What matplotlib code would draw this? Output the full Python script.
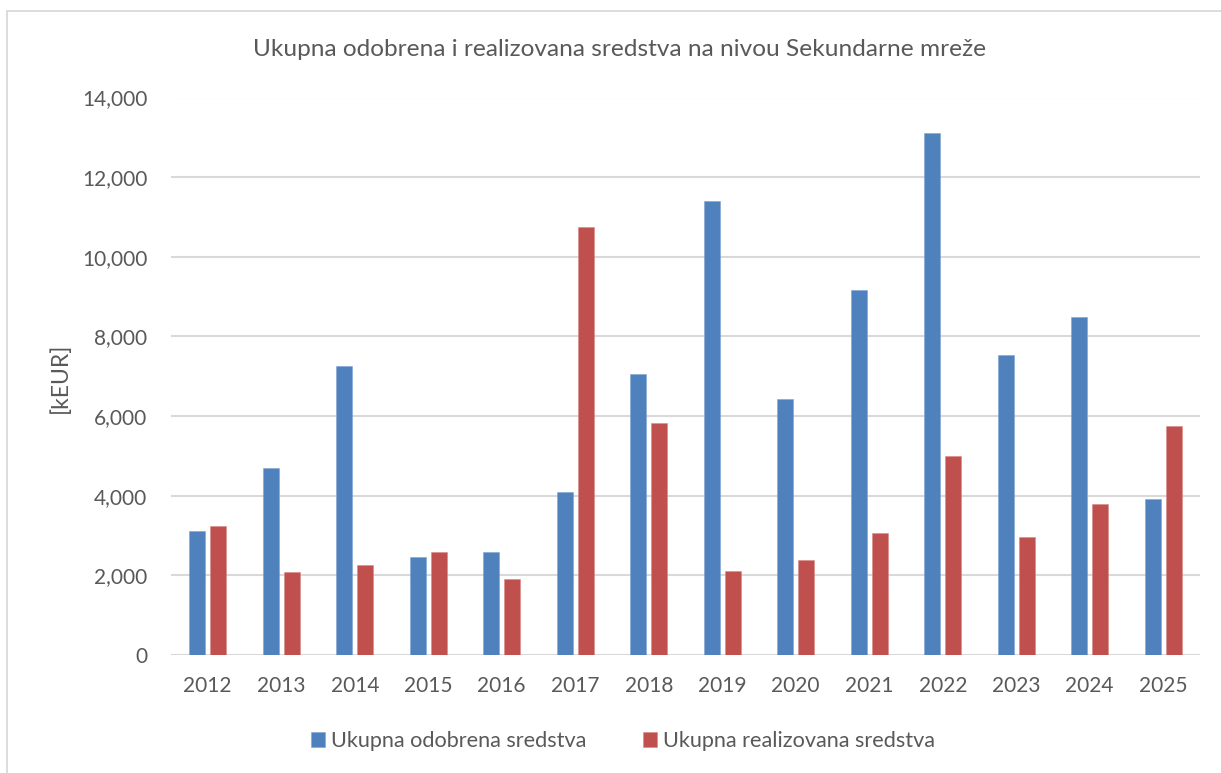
import matplotlib
matplotlib.use("Agg")
import matplotlib.pyplot as plt
from matplotlib.patches import Rectangle
import numpy as np

years = ["2012", "2013", "2014", "2015", "2016", "2017", "2018",
         "2019", "2020", "2021", "2022", "2023", "2024", "2025"]
odobrena = [3110, 4700, 7260, 2460, 2580, 4090, 7055,
            11395, 6425, 9165, 13115, 7535, 8478, 3917]
realizovana = [3240, 2095, 2250, 2585, 1915, 10740, 5830,
               2120, 2382, 3068, 5006, 2968, 3800, 5753]
series_names = ["Ukupna odobrena sredstva", "Ukupna realizovana sredstva"]
title = "Ukupna odobrena i realizovana sredstva na nivou Sekundarne mreže"
ylabel = "[kEUR]"
yticks = [0, 2000, 4000, 6000, 8000, 10000, 12000, 14000]

plt.rcParams['font.family'] = ['Lato', 'DejaVu Sans']
TXT = "#595959"
BLUE = "#4F81BD"
RED = "#C0504D"
GRID = "#D9D9D9"

W, H = 1221, 773
fig = plt.figure(figsize=(W / 100, H / 100), dpi=100)
fig.patch.set_facecolor("white")

# chart frame (only left/top visible in the crop)
fig.add_artist(Rectangle((7 / W, -0.05), 1.2, 1 - 11 / H + 0.05,
                         transform=fig.transFigure, fill=False,
                         edgecolor="#D9D9D9", linewidth=1.3))

ax = fig.add_axes([171 / W, 1 - 655 / H, (1200 - 171) / W, (655 - 97.5) / H])
x = np.arange(len(years))
bw = 0.218
off = 0.141
ax.bar(x - off, odobrena, bw, color=BLUE, label=series_names[0], zorder=3,
       edgecolor="#7FA3D1", linewidth=0.4)
ax.bar(x + off, realizovana, bw, color=RED, label=series_names[1], zorder=3,
       edgecolor="#D88A88", linewidth=0.4)

ax.set_xlim(-0.5, len(years) - 0.5)
ax.set_ylim(0, 14000)
ax.set_yticks(yticks)
ax.set_yticklabels([f"{v:,}" for v in yticks])
ax.set_xticks(x)
ax.set_xticklabels(years)
ax.yaxis.grid(True, color=GRID, linewidth=1.5, zorder=0)
ax.set_axisbelow(True)
for s in ax.spines.values():
    s.set_visible(False)
ax.tick_params(axis="both", length=0, colors=TXT, labelsize=15)
ax.tick_params(axis="y", pad=17)
ax.tick_params(axis="x", pad=15)
for lbl in ax.get_xticklabels() + ax.get_yticklabels():
    lbl.set_color(TXT)

fig.text(60 / W, 1 - 378 / H, ylabel, rotation=90, ha="center", va="center",
         fontsize=16.5, color=TXT)
fig.text(620 / W, 1 - 50 / H, title, ha="center", va="center",
         fontsize=17.6, color=TXT)

leg = fig.legend(loc="center", bbox_to_anchor=(623 / W, 1 - 741 / H), ncol=2,
                 frameon=False, fontsize=15.6, handlelength=0.65, handleheight=0.65,
                 handletextpad=0.3, columnspacing=2.6, labelcolor=TXT)

fig.savefig("out.png", dpi=100, facecolor="white")
